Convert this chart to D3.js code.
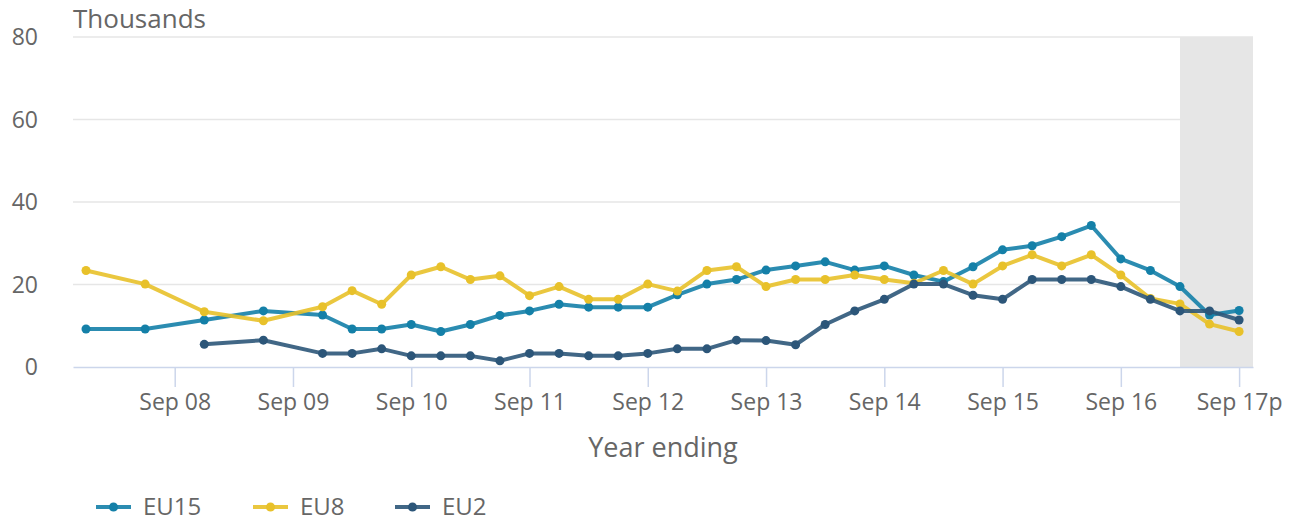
<!DOCTYPE html>
<html>
<head>
<meta charset="utf-8">
<script src="https://cdn.jsdelivr.net/npm/d3@7"></script>
<style>
  body { margin: 0; background: #fff; font-family: "Open Sans", sans-serif; }
</style>
</head>
<body>
<div id="chart"></div>
<script>
// quarterly periods, year ending
var periods = ["Dec 07", "Jun 08", "Dec 08", "Jun 09", "Dec 09", "Mar 10", "Jun 10", "Sep 10",
  "Dec 10", "Mar 11", "Jun 11", "Sep 11", "Dec 11", "Mar 12", "Jun 12", "Sep 12",
  "Dec 12", "Mar 13", "Jun 13", "Sep 13", "Dec 13", "Mar 14", "Jun 14", "Sep 14",
  "Dec 14", "Mar 15", "Jun 15", "Sep 15", "Dec 15", "Mar 16", "Jun 16", "Sep 16",
  "Dec 16", "Mar 17", "Jun 17", "Sep 17"];

var eu15 = [9.2, 9.2, 11.4, 13.6, 12.6, 9.2, 9.2, 10.3,
  8.6, 10.3, 12.5, 13.6, 15.2, 14.5, 14.5, 14.5,
  17.5, 20.1, 21.2, 23.5, 24.5, 25.5, 23.5, 24.5,
  22.3, 20.7, 24.3, 28.4, 29.4, 31.6, 34.3, 26.2,
  23.4, 19.5, 12.6, 13.7];

var eu8 = [23.4, 20.1, 13.4, 11.2, 14.6, 18.5, 15.2, 22.3,
  24.3, 21.2, 22.1, 17.3, 19.5, 16.4, 16.4, 20.1,
  18.4, 23.4, 24.3, 19.5, 21.2, 21.2, 22.3, 21.2,
  20.3, 23.4, 20.1, 24.5, 27.2, 24.5, 27.2, 22.3,
  16.6, 15.3, 10.4, 8.6];

var eu2 = [null, null, 5.5, 6.5, 3.3, 3.3, 4.4, 2.7,
  2.7, 2.7, 1.5, 3.3, 3.3, 2.7, 2.7, 3.3,
  4.4, 4.4, 6.5, 6.4, 5.4, 10.3, 13.6, 16.4,
  20.1, 20.1, 17.4, 16.4, 21.2, 21.2, 21.2, 19.5,
  16.4, 13.6, 13.6, 11.4];

var tickLabels = ["Sep 08", "Sep 09", "Sep 10", "Sep 11", "Sep 12", "Sep 13", "Sep 14", "Sep 15", "Sep 16", "Sep 17p"];
var yTicks = [0, 20, 40, 60, 80];
var shadeFrom = "Mar 17";

var seriesNames = ["EU15", "EU8", "EU2"];
var seriesData = [eu15, eu8, eu2];
var colors = ["#1480a8", "#e8c12a", "#2c5679"];

var monthIdx = { Mar: 0, Jun: 1, Sep: 2, Dec: 3 };
function quarter(label) {
  var p = label.replace(/p$/, "").split(" ");
  return (+p[1]) * 4 + monthIdx[p[0]];
}

var svgWidth = 1295;
var svgHeight = 521;
var margin = { top: 37, right: 42, bottom: 154, left: 73 };
var width = svgWidth - margin.left - margin.right;
var height = svgHeight - margin.top - margin.bottom;

var svg = d3.select("#chart").append("svg")
  .attr("width", svgWidth)
  .attr("height", svgHeight);

var chartGroup = svg.append("g")
  .attr("transform", `translate(${margin.left}, ${margin.top})`);

var q0 = quarter("Dec 07");
var xScale = d3.scaleLinear()
  .domain([q0 - 0.44, quarter("Sep 17") + 0.47])
  .range([0, width]);

var yScale = d3.scaleLinear()
  .domain([0, 80])
  .range([height, 0]);

// shaded provisional period
chartGroup.append("rect")
  .attr("x", xScale(quarter(shadeFrom)))
  .attr("y", 0)
  .attr("width", width - xScale(quarter(shadeFrom)))
  .attr("height", height)
  .attr("fill", "#e6e6e6");

// gridlines
chartGroup.append("g").selectAll("line")
  .data(yTicks.filter(d => d > 0))
  .enter()
  .append("line")
  .attr("x1", 0)
  .attr("x2", width)
  .attr("y1", d => yScale(d))
  .attr("y2", d => yScale(d))
  .attr("stroke", "#e6e6e6")
  .attr("stroke-width", 1.5);

// y labels
chartGroup.append("g").selectAll("text")
  .data(yTicks)
  .enter()
  .append("text")
  .attr("x", -35)
  .attr("y", d => yScale(d))
  .attr("dy", "0.35em")
  .attr("text-anchor", "end")
  .attr("font-size", "23px")
  .attr("fill", "#666")
  .text(d => d);

chartGroup.append("text")
  .attr("x", 0)
  .attr("y", -9)
  .attr("font-size", "26px")
  .attr("fill", "#666")
  .text("Thousands");

// x axis
var xAxis = d3.axisBottom(xScale)
  .tickValues(tickLabels.map(quarter))
  .tickFormat((d, i) => tickLabels[i])
  .tickSize(20)
  .tickSizeOuter(0)
  .tickPadding(7);

var xg = chartGroup.append("g")
  .attr("transform", `translate(0, ${height})`)
  .call(xAxis);
xg.select(".domain").attr("stroke", "#ccd6eb").attr("stroke-width", 1.5);
xg.selectAll(".tick line").attr("stroke", "#ccd6eb").attr("stroke-width", 1.5);
xg.selectAll(".tick text")
  .attr("font-family", "Open Sans, sans-serif")
  .attr("font-size", "23px")
  .attr("fill", "#666");

chartGroup.append("text")
  .attr("x", width / 2)
  .attr("y", height + 90)
  .attr("text-anchor", "middle")
  .attr("font-size", "27px")
  .attr("fill", "#666")
  .text("Year ending");

// lines
var line = d3.line()
  .defined(d => d.v != null)
  .x(d => xScale(d.q))
  .y(d => yScale(d.v));

seriesData.forEach(function(values, s) {
  var pts = values.map((v, i) => ({ q: quarter(periods[i]), v: v }));
  chartGroup.append("path")
    .datum(pts)
    .attr("d", line)
    .attr("fill", "none")
    .attr("stroke", colors[s])
    .attr("stroke-width", 4)
    .attr("stroke-opacity", 0.9)
    .attr("stroke-linejoin", "round");

  chartGroup.append("g").selectAll("circle")
    .data(pts.filter(d => d.v != null))
    .enter()
    .append("circle")
    .attr("cx", d => xScale(d.q))
    .attr("cy", d => yScale(d.v))
    .attr("r", 4.5)
    .attr("fill", colors[s]);
});

// legend
var legendX = [96, 253, 395];
var legend = svg.append("g").attr("transform", "translate(0, 507)");
seriesNames.forEach(function(name, s) {
  var g = legend.append("g").attr("transform", `translate(${legendX[s]}, 0)`);
  g.append("line")
    .attr("x1", 0).attr("x2", 35)
    .attr("stroke", colors[s])
    .attr("stroke-width", 4)
    .attr("stroke-opacity", 0.9);
  g.append("circle")
    .attr("cx", 17.5)
    .attr("r", 4.5)
    .attr("fill", colors[s]);
  g.append("text")
    .attr("x", 47)
    .attr("dy", "0.35em")
    .attr("font-size", "24px")
    .attr("fill", "#666")
    .text(name);
});
</script>
</body>
</html>
